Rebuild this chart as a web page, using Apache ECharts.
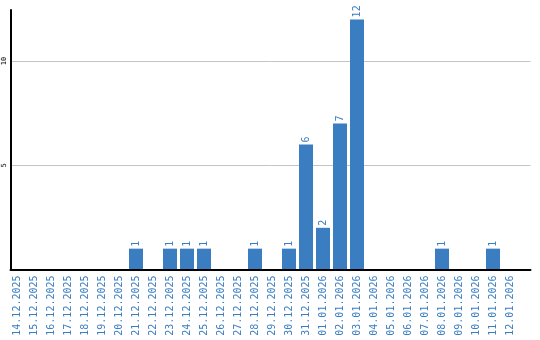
<!DOCTYPE html>
<html><head><meta charset="utf-8">
<script src="https://cdn.jsdelivr.net/npm/echarts@6/dist/echarts.min.js"></script>
<style>html,body{margin:0;padding:0;background:#fff}#c{width:540px;height:340px}</style>
</head><body><div id="c"></div>
<script>
const categories = ["14.12.2025","15.12.2025","16.12.2025","17.12.2025","18.12.2025","19.12.2025","20.12.2025","21.12.2025","22.12.2025","23.12.2025","24.12.2025","25.12.2025","26.12.2025","27.12.2025","28.12.2025","29.12.2025","30.12.2025","31.12.2025","01.01.2026","02.01.2026","03.01.2026","04.01.2026","05.01.2026","06.01.2026","07.01.2026","08.01.2026","09.01.2026","10.01.2026","11.01.2026","12.01.2026"];
const counts = [0,0,0,0,0,0,0,1,0,1,1,1,0,0,1,0,1,6,2,7,12,0,0,0,0,1,0,0,1,0];
const yTicks = [5, 10];
const yMax = 12.45;
const blue = '#3a7dc1';
const mono = '"DejaVu Sans Mono", monospace';

const chart = echarts.init(document.getElementById('c'), null, {renderer: 'canvas'});
chart.setOption({
  animation: false,
  grid: [
    {left: 10.5, right: 9.5, top: 10, bottom: 70.5},
    {left: 8.5, width: 510, top: 10, bottom: 70.5}
  ],
  xAxis: [
    {gridIndex: 0, type: 'value', min: 0, max: 1, zlevel: 2, axisLine: {show: true, lineStyle: {color: '#000', width: 2}},
     axisTick: {show: false}, axisLabel: {show: false}, splitLine: {show: false}},
    {gridIndex: 1, type: 'category', data: categories, axisLine: {show: false}, axisTick: {show: false},
     axisLabel: {interval: 0, rotate: 90, color: blue, fontFamily: mono, fontSize: 10, margin: 6, padding: [3, 0, 0, 0]}}
  ],
  yAxis: [
    {gridIndex: 0, type: 'value', min: 0, max: yMax, interval: 5, zlevel: 2,
     axisLine: {show: true, lineStyle: {color: '#000', width: 2}}, axisTick: {show: false},
     axisLabel: {rotate: 90, color: '#000', fontFamily: mono, fontSize: 7, margin: 3,
       formatter: v => yTicks.includes(v) ? String(v) : ''},
     splitLine: {show: false}},
    {gridIndex: 1, type: 'value', min: 0, max: yMax, show: false, splitLine: {show: false}}
  ],
  series: [
    {type: 'line', xAxisIndex: 0, yAxisIndex: 0, data: [], silent: true, zlevel: 0,
     markLine: {silent: true, symbol: 'none', label: {show: false},
       lineStyle: {color: '#c4c4c4', width: 1, type: 'solid'},
       data: yTicks.map(t => ({yAxis: t}))}},
    {type: 'bar', xAxisIndex: 1, yAxisIndex: 1, data: counts, barWidth: 14, zlevel: 1,
     itemStyle: {color: blue},
     label: {show: true, position: 'top', rotate: 90, align: 'left', verticalAlign: 'middle', distance: 2,
       color: blue, fontFamily: mono, fontSize: 10,
       formatter: p => p.value > 0 ? String(p.value) : ''}}
  ]
});
</script></body></html>
